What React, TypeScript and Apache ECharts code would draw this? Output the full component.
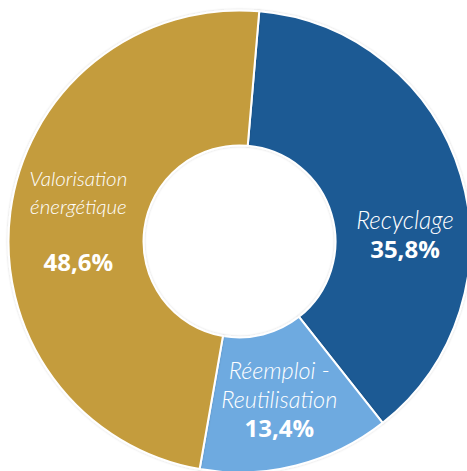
import React, { useEffect, useRef } from "react";
import * as echarts from "echarts";

// Categories (clockwise from the top)
const categories = ["Recyclage", "Réemploi - Reutilisation", "Valorisation énergétique"];
// Label lines for each category
const nameLines = [["Recyclage"], ["Réemploi -", "Reutilisation"], ["Valorisation", "énergétique", ""]];
// Slice shares as drawn (arc sizes)
const shares = [38.0, 13.4, 48.6];
// Percentages printed on the slices
const percentLabels = ["35,8%", "13,4%", "48,6%"];
const colors = ["#1B5A94", "#6EAAE0", "#C49C3D"];
const nameSizes = [24.5, 23.5, 20.5];
const lineHeights = [29, 29, 28];

export default function App() {
  const ref = useRef<HTMLDivElement>(null);
  useEffect(() => {
    if (!ref.current) return;
    const chart = echarts.init(ref.current, undefined, { renderer: "svg" });
    const data = categories.map((c, i) => ({
      name: c,
      value: shares[i],
      itemStyle: { color: colors[i] },
      label: {
        lineHeight: lineHeights[i],
        formatter:
          nameLines[i].map((l) => (l ? `{n|${l}}` : "")).join("\n") + `\n{p|${percentLabels[i]}}`,
        rich: {
          n: {
            fontFamily: "Lato",
            fontStyle: "italic",
            fontWeight: 300,
            fontSize: nameSizes[i],
            color: "#ffffff",
            lineHeight: lineHeights[i],
          },
          p: {
            fontFamily: "Open Sans",
            fontWeight: "bold",
            fontSize: 24,
            color: "#ffffff",
            lineHeight: lineHeights[i],
          },
        },
      },
    }));
    chart.setOption({
      animation: false,
      backgroundColor: "#ffffff",
      series: [
        {
          type: "pie",
          center: [239.5, 241.5],
          radius: [96, 231],
          startAngle: 85.1,
          clockwise: true,
          avoidLabelOverlap: false,
          itemStyle: {
            borderColor: "#ffffff",
            borderWidth: 2,
            shadowBlur: 2,
            shadowColor: "rgba(0,0,0,0.18)",
          },
          emphasis: { disabled: true },
          label: {
            show: true,
            position: "inside",
            color: "#ffffff",
            fontFamily: "Lato",
          },
          labelLine: { show: false },
          labelLayout: (params: any) => {
            if (params.dataIndex === 0) return { dx: 6, dy: 40 };
            if (params.dataIndex === 1) return { dx: -1, dy: -4 };
            if (params.dataIndex === 2) return { dx: 4, dy: 0 };
            return {};
          },
          data,
        },
      ],
    });
    return () => chart.dispose();
  }, []);
  return (
    <div
      ref={ref}
      style={{ position: "fixed", left: 0, top: 0, width: 467, height: 471 }}
    />
  );
}
